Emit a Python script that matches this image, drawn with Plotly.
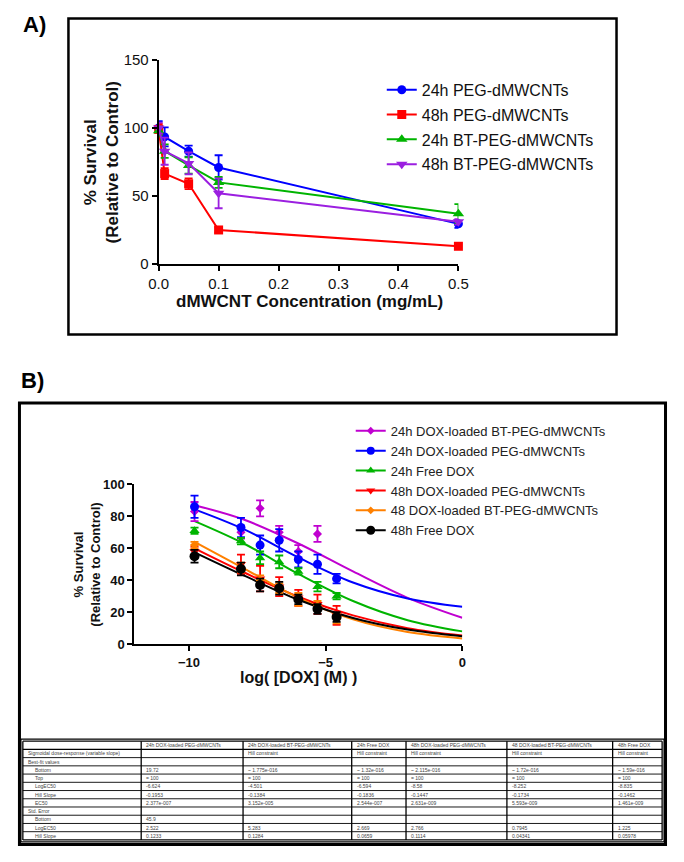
import plotly.graph_objects as go

# The page keeps the browser's default 8px body margin, so the figure is 16px
# smaller than the window and all positions below are given in window pixels.
WIN_W, WIN_H = 684, 862
OFF = 8
FW, FH = WIN_W - 2 * OFF, WIN_H - 2 * OFF
FONT = "Arial, 'Liberation Sans', sans-serif"

# ---------------- Panel A data ----------------
conc_a = [0, 0.01, 0.05, 0.1, 0.5]
a_names = ["24h PEG-dMWCNTs", "48h PEG-dMWCNTs", "24h BT-PEG-dMWCNTs", "48h BT-PEG-dMWCNTs"]
a_24h_peg = [100, 93.5, 83, 71, 29.5]
a_24h_peg_err = [5, 7, 4, 9, 3]
a_48h_peg = [99, 66.5, 59, 25, 13]
a_48h_peg_err = [4, 4, 4, 2, 2]
a_24h_bt = [98, 83, 72.5, 60, 37]
a_24h_bt_err = [3, 5, 6, 4, 7]
a_48h_bt = [100, 83, 74, 52, 31]
a_48h_bt_err = [4, 10, 8, 11, 2]

# ---------------- Panel B data ----------------
logdox = [-9.8, -8.1, -7.4, -6.7, -6.0, -5.3, -4.6]
b_names = ["24h DOX-loaded BT-PEG-dMWCNTs", "24h DOX-loaded PEG-dMWCNTs", "24h Free DOX",
           "48h DOX-loaded PEG-dMWCNTs", "48 DOX-loaded BT-PEG-dMWCNTs", "48h Free DOX"]
b_24h_bt = [83, 70, 85, 70, 58, 69]
b_24h_bt_err = [6, 4, 5, 4, 4, 5]
b_24h_peg = [86, 73, 62, 65, 53, 50, 41]
b_24h_peg_err = [7, 6, 6, 7, 5, 6, 3]
b_24h_free = [71, 64.5, 54, 51.5, 45.5, 36, 30]
b_24h_free_err = [2, 2, 4, 4, 2, 3, 2]
b_48h_peg = [58, 50, 41, 36, 29, 25, 18]
b_48h_peg_err = [3, 6, 8, 6, 5, 6, 6]
b_48h_bt = [62, 48, 40, 35, 28, 24, 16]
b_48h_bt_err = [2, 3, 3, 3, 4, 3, 3]
b_48h_free = [55, 47, 37, 35, 28, 22, 17]
b_48h_free_err = [4, 4, 4, 4, 3, 3, 3]

# fitted curves
curve_x = [-9.8, -8, -6, -4, -2, 0]
c_24h_bt = [87, 78, 63, 45.5, 29, 16.5]
c_24h_peg = [84.4, 72, 54.3, 38.6, 28.6, 23.4]
c_24h_free = [77, 63, 44, 27, 15, 8]
c_48h_peg = [60, 45, 29.7, 18, 10, 5.4]
c_48h_bt = [64, 47.5, 29, 15.5, 7.6, 3.6]
c_48h_free = [57.5, 43, 27.8, 16.4, 9.1, 4.9]

# ---------------- Table data ----------------
tbl_header = ["", "24h DOX-loaded PEG-dMWCNTs", "24h DOX-loaded BT-PEG-dMWCNTs", "24h Free DOX",
              "48h DOX-loaded PEG-dMWCNTs", "48 DOX-loaded BT-PEG-dMWCNTs", "48h Free DOX"]
tbl_rows = ["Sigmoidal dose-response (variable slope)", "Best-fit values", "Bottom", "Top",
            "LogEC50", "Hill Slope", "EC50", "Std. Error", "Bottom", "LogEC50", "Hill Slope"]
tbl_indent = [0, 0, 1, 1, 1, 1, 1, 0, 1, 1, 1]
tbl_c1 = ["", "", "19.72", "= 100", "-6.624", "-0.1953", "2.377e-007", "", "45.9", "2.522", "0.1233"]
tbl_c2 = ["Hill constraint", "", "~ 1.775e-016", "= 100", "-4.501", "-0.1384", "3.152e-005", "", "", "5.283", "0.1284"]
tbl_c3 = ["Hill constraint", "", "~ 1.32e-016", "= 100", "-6.594", "-0.1836", "2.544e-007", "", "", "2.669", "0.0659"]
tbl_c4 = ["Hill constraint", "", "~ 2.115e-016", "= 100", "-8.58", "-0.1447", "2.631e-009", "", "", "2.766", "0.1114"]
tbl_c5 = ["Hill constraint", "", "~ 1.72e-016", "= 100", "-8.252", "-0.1734", "5.593e-009", "", "", "0.7945", "0.04341"]
tbl_c6 = ["Hill constraint", "", "~ 1.59e-016", "= 100", "-8.835", "-0.1462", "1.461e-009", "", "", "1.225", "0.05978"]

BLUE, RED, GREEN, PURPLE = "#0000FF", "#FF0000", "#00B400", "#9B1FE0"
MAG, ORANGE, BLACK = "#C000D0", "#FF8000", "#000000"


def px_x(p):
    return (p - OFF) / FW


def px_y(p):
    return 1 - (p - OFF) / FH


fig = go.Figure()

# ---------- Panel A traces ----------
a_series = [
    (a_names[0], a_24h_peg, a_24h_peg_err, BLUE, "circle", 9),
    (a_names[1], a_48h_peg, a_48h_peg_err, RED, "square", 9),
    (a_names[2], a_24h_bt, a_24h_bt_err, GREEN, "triangle-up", 10),
    (a_names[3], a_48h_bt, a_48h_bt_err, PURPLE, "triangle-down", 10),
]
for i, (nm, ys, es, col, sym, sz) in enumerate(a_series):
    fig.add_trace(go.Scatter(
        x=conc_a, y=ys, name=nm, mode="lines+markers", xaxis="x", yaxis="y",
        line=dict(color=col, width=2), marker=dict(color=col, symbol=sym, size=sz),
        error_y=dict(type="data", array=es, color=col, thickness=1.8, width=4),
        cliponaxis=False, legend="legend", legendgroup="a%d" % i,
    ))

# ---------- Panel B traces ----------
b_series = [
    (b_names[0], b_24h_bt, b_24h_bt_err, c_24h_bt, MAG, "diamond", 7),
    (b_names[1], b_24h_peg, b_24h_peg_err, c_24h_peg, BLUE, "circle", 9),
    (b_names[2], b_24h_free, b_24h_free_err, c_24h_free, GREEN, "triangle-up", 9),
    (b_names[3], b_48h_peg, b_48h_peg_err, c_48h_peg, RED, "triangle-down", 9),
    (b_names[4], b_48h_bt, b_48h_bt_err, c_48h_bt, ORANGE, "diamond", 7),
    (b_names[5], b_48h_free, b_48h_free_err, c_48h_free, BLACK, "circle", 10),
]
for i, (nm, ys, es, cy, col, sym, sz) in enumerate(b_series):
    fig.add_trace(go.Scatter(
        x=curve_x, y=cy, mode="lines", xaxis="x2", yaxis="y2",
        line=dict(color=col, width=2, shape="spline", smoothing=1.0),
        showlegend=False, hoverinfo="skip",
    ))
for i, (nm, ys, es, cy, col, sym, sz) in enumerate(b_series):
    fig.add_trace(go.Scatter(
        x=logdox[:len(ys)], y=ys, mode="markers", xaxis="x2", yaxis="y2",
        marker=dict(color=col, symbol=sym, size=sz),
        error_y=dict(type="data", array=es, color=col, thickness=1.8, width=4),
        cliponaxis=False, showlegend=False,
    ))
for i, (nm, ys, es, cy, col, sym, sz) in enumerate(b_series):
    fig.add_trace(go.Scatter(
        x=[None], y=[None], name=nm, mode="lines+markers", xaxis="x2", yaxis="y2",
        line=dict(color=col, width=2), marker=dict(color=col, symbol=sym, size=sz - 1),
        legend="legend2",
    ))

axis_common = dict(showline=True, linewidth=2, linecolor="black", ticks="outside",
                   ticklen=5, tickwidth=2, tickcolor="black", showgrid=False, zeroline=False,
                   mirror=False)

fig.update_layout(
    width=FW, height=FH, margin=dict(l=0, r=0, t=0, b=0),
    paper_bgcolor="white", plot_bgcolor="white",
    font=dict(family=FONT, color="black"),
    xaxis=dict(domain=[px_x(153), px_x(462)], range=[0, 0.5], anchor="y", dtick=0.1,
               tickformat=".1f", tickfont=dict(size=15, color="#111"), **axis_common),
    yaxis=dict(domain=[px_y(260), px_y(52)], range=[0, 150], anchor="x", dtick=50,
               tickfont=dict(size=15, color="#111"), **axis_common),
    xaxis2=dict(domain=[px_x(128), px_x(466)], range=[-12, 0], anchor="y2",
                tickvals=[-10, -5, 0], tickfont=dict(size=13, color="#111", weight="bold"),
                **axis_common),
    yaxis2=dict(domain=[px_y(648), px_y(485)], range=[0, 100], anchor="x2", dtick=20,
                tickfont=dict(size=13, color="#111", weight="bold"), **axis_common),
    legend=dict(x=px_x(383), y=px_y(65), xanchor="left", yanchor="top",
                font=dict(size=16, color="#111"), bgcolor="rgba(0,0,0,0)",
                tracegroupgap=1, itemwidth=30),
    legend2=dict(x=px_x(351), y=px_y(415), xanchor="left", yanchor="top",
                 font=dict(size=13, color="#222"), bgcolor="rgba(0,0,0,0)",
                 tracegroupgap=0, itemwidth=30),
    showlegend=True,
)

# frames
fig.add_shape(type="rect", xref="paper", yref="paper", x0=px_x(60), x1=px_x(625),
              y0=px_y(332), y1=px_y(9.5), line=dict(color="black", width=2.5))
fig.add_shape(type="rect", xref="paper", yref="paper", x0=px_x(9.5), x1=px_x(675.5),
              y0=px_y(852.5), y1=px_y(402), line=dict(color="black", width=3))

# ---------- Table drawn with lines and text ----------
col_edges = [13, 135, 240, 352, 408, 512, 621, 672]
row_top, row_h = 747, 8.4
n_rows = len(tbl_rows) + 1
fig.add_shape(type="rect", xref="paper", yref="paper", x0=px_x(11), x1=px_x(674),
              y0=px_y(row_top + n_rows * row_h + 2), y1=px_y(row_top - 2),
              line=dict(color="black", width=1.2))
for k in range(n_rows + 1):
    yy = px_y(row_top + k * row_h)
    fig.add_shape(type="line", xref="paper", yref="paper", x0=px_x(col_edges[0]),
                  x1=px_x(col_edges[-1]), y0=yy, y1=yy,
                  line=dict(color="black", width=1.3 if k in (0, 1, n_rows) else 0.9))
for c in col_edges:
    fig.add_shape(type="line", xref="paper", yref="paper", x0=px_x(c), x1=px_x(c),
                  y0=px_y(row_top), y1=px_y(row_top + n_rows * row_h),
                  line=dict(color="black", width=1.3))

table_cols = [tbl_rows, tbl_c1, tbl_c2, tbl_c3, tbl_c4, tbl_c5, tbl_c6]
cell_font = dict(size=5, color="#444", family=FONT)
for ci, head in enumerate(tbl_header):
    if head:
        fig.add_annotation(xref="paper", yref="paper", showarrow=False, text=head,
                           x=px_x(col_edges[ci] + 3), y=px_y(row_top + 0.5 * row_h),
                           xanchor="left", yanchor="middle", font=cell_font)
for ci, colvals in enumerate(table_cols):
    for ri, val in enumerate(colvals):
        if not val:
            continue
        ind = 10 if (ci == 0 and tbl_indent[ri]) else 3
        fig.add_annotation(xref="paper", yref="paper", showarrow=False, text=val,
                           x=px_x(col_edges[ci] + ind), y=px_y(row_top + (ri + 1.5) * row_h),
                           xanchor="left", yanchor="middle", font=cell_font)

# labels and axis titles
ann = [
    dict(text="<b>A)</b>", x=px_x(11), y=px_y(16), xanchor="left", yanchor="middle",
         font=dict(size=22)),
    dict(text="<b>B)</b>", x=px_x(9), y=px_y(379), xanchor="left", yanchor="middle",
         font=dict(size=22)),
    dict(text="<b>% Survival<br>(Relative to Control)</b>", x=px_x(94), y=px_y(156),
         textangle=-90, xanchor="center", yanchor="middle", font=dict(size=17, color="#111")),
    dict(text="<b>dMWCNT Concentration (mg/mL)</b>", x=px_x(308), y=px_y(298),
         xanchor="center", yanchor="middle", font=dict(size=17, color="#111")),
    dict(text="<b>% Survival<br>(Relative to Control)</b>", x=px_x(79), y=px_y(567),
         textangle=-90, xanchor="center", yanchor="middle", font=dict(size=13, color="#111")),
    dict(text="<b>log( [DOX] (M) )</b>", x=px_x(297), y=px_y(682),
         xanchor="center", yanchor="middle", font=dict(size=16, color="#111")),
]
for a in ann:
    fig.add_annotation(xref="paper", yref="paper", showarrow=False, **a)

fig.write_html("out.html", config={"displayModeBar": False})
